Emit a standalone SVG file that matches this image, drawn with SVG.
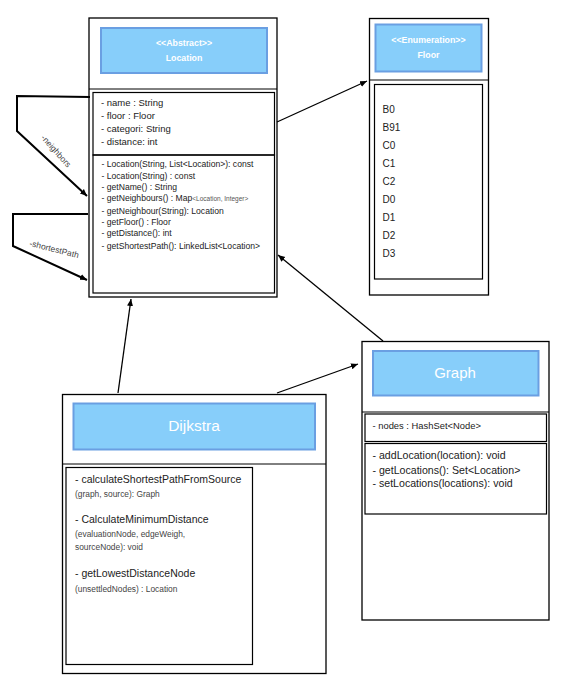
<svg xmlns="http://www.w3.org/2000/svg" width="576" height="694" viewBox="0 0 576 694">
<style>
.box{fill:#fff;stroke:#000;stroke-width:1.3}
.inner{fill:none;stroke:#000;stroke-width:1.2}
.sep{stroke:#000;stroke-width:1}
.hdr{fill:#87CEFA;stroke:#6A9FE2;stroke-width:2}
.ht{font-family:"Liberation Sans",Arial,sans-serif;fill:#fff;text-anchor:middle}
.t{font-family:"Liberation Sans",Arial,sans-serif;fill:#222}
.lbl{font-family:"Liberation Sans",Arial,sans-serif;fill:#444;font-size:8.5px}
.con{fill:none;stroke:#000;stroke-width:1.3}
.loop{fill:none;stroke:#000;stroke-width:2}
</style>
<defs>
<marker id="arr" markerUnits="userSpaceOnUse" markerWidth="8" markerHeight="8" refX="7" refY="4" orient="auto">
<path d="M0,1 L7,4 L0,7 Z" fill="#000"/>
</marker>
</defs>
<rect width="576" height="694" fill="#fff"/>

<g id="location">
<rect class="box" x="89" y="18" width="188" height="279"/>
<rect class="hdr" x="101" y="28" width="166" height="45"/>
<text class="ht" x="184" y="46" font-size="8.8" font-weight="bold">&lt;&lt;Abstract&gt;&gt;</text>
<text class="ht" x="184" y="61" font-size="8.8" font-weight="bold">Location</text>
<line class="sep" x1="89" y1="89" x2="277" y2="89"/>
<rect class="inner" x="93" y="92.5" width="181.5" height="62.5"/>
<rect class="inner" x="93" y="155" width="181.5" height="138"/>
<g class="t" font-size="9.5">
<text x="101" y="106">- name : String</text>
<text x="101" y="119.3">- floor : Floor</text>
<text x="101" y="132.3">- categori: String</text>
<text x="101" y="145.3">- distance: int</text>
</g>
<g class="t" font-size="8.6">
<text x="101.5" y="167.3">- Location(String, List&lt;Location&gt;): const</text>
<text x="101.5" y="178.7">- Location(String) : const</text>
<text x="101.5" y="189.7">- getName() : String</text>
<text x="101.5" y="200.7">- getNeighbours() : Map<tspan font-size="6.5" fill="#555">&lt;Location, Integer&gt;</tspan></text>
<text x="101.5" y="214.3">- getNeighbour(String): Location</text>
<text x="101.5" y="225.3">- getFloor() : Floor</text>
<text x="101.5" y="236.3">- getDistance(): int</text>
<text x="101.5" y="248.7">- getShortestPath(): LinkedList&lt;Location&gt;</text>
</g>
</g>

<g id="floor">
<rect class="box" x="369.5" y="18.5" width="119" height="276.5"/>
<rect class="hdr" x="375.5" y="24.5" width="106" height="47"/>
<text class="ht" x="428.5" y="43" font-size="8.8" font-weight="bold">&lt;&lt;Enumeration&gt;&gt;</text>
<text class="ht" x="428.5" y="57.5" font-size="8.8" font-weight="bold">Floor</text>
<line class="sep" x1="369.5" y1="80" x2="488.5" y2="80"/>
<rect class="inner" x="374.5" y="84.5" width="108" height="194.5"/>
<g class="t" font-size="10">
<text x="382.5" y="112.5">B0</text>
<text x="382.5" y="130.8">B91</text>
<text x="382.5" y="148.8">C0</text>
<text x="382.5" y="166.8">C1</text>
<text x="382.5" y="184.5">C2</text>
<text x="382.5" y="202.8">D0</text>
<text x="382.5" y="220.8">D1</text>
<text x="382.5" y="238.5">D2</text>
<text x="382.5" y="256.5">D3</text>
</g>
</g>

<g id="graph">
<rect class="box" x="362" y="341.5" width="187" height="278.5"/>
<rect class="hdr" x="373" y="351" width="165.5" height="44.5"/>
<text class="ht" x="455" y="378" font-size="15">Graph</text>
<line class="sep" x1="362" y1="412" x2="549" y2="412"/>
<rect class="inner" x="365" y="414" width="181.5" height="27.5"/>
<rect class="inner" x="365" y="443.5" width="181.5" height="70.5"/>
<text class="t" x="372.5" y="429.3" font-size="9.4" fill="#444">- nodes : HashSet&lt;Node&gt;</text>
<g class="t" font-size="10.6">
<text x="372.5" y="458.7">- addLocation(location): void</text>
<text x="372.5" y="474">- getLocations(): Set&lt;Location&gt;</text>
<text x="372.5" y="487">- setLocations(locations): void</text>
</g>
</g>

<g id="dijkstra">
<rect class="box" x="62.5" y="394.5" width="263.5" height="279"/>
<rect class="hdr" x="73.5" y="403.5" width="241.5" height="46"/>
<text class="ht" x="194" y="431" font-size="15.5">Dijkstra</text>
<line class="sep" x1="62.5" y1="464" x2="326" y2="464"/>
<rect class="inner" x="66" y="467.5" width="186.5" height="197"/>
<g class="t">
<text x="75" y="483" font-size="10.5">- calculateShortestPathFromSource</text>
<text x="75" y="497" font-size="8.4" fill="#444">(graph, source): Graph</text>
<text x="75" y="522.7" font-size="10.5">- CalculateMinimumDistance</text>
<text x="75" y="537.3" font-size="8.4" fill="#444">(evaluationNode, edgeWeigh,</text>
<text x="75" y="550.3" font-size="8.4" fill="#444">sourceNode): void</text>
<text x="75" y="577" font-size="10.5">- getLowestDistanceNode</text>
<text x="75" y="592" font-size="8.4" fill="#444">(unsettledNodes) : Location</text>
</g>
</g>

<g id="connectors">
<line class="con" x1="277" y1="122" x2="367" y2="81" marker-end="url(#arr)"/>
<line class="con" x1="383" y1="341" x2="278" y2="255" marker-end="url(#arr)"/>
<line class="con" x1="118" y1="393" x2="131" y2="299" marker-end="url(#arr)"/>
<line class="con" x1="277" y1="393" x2="358" y2="364" marker-end="url(#arr)"/>
<polyline class="loop" points="90,97 17,96 17,131 87,196" marker-end="url(#arr)"/>
<polyline class="loop" points="88,214 13,214 13,246 87,280" marker-end="url(#arr)"/>
<text class="lbl" x="54" y="153" text-anchor="middle" transform="rotate(48 54 153)">-neighbors</text>
<text class="lbl" x="53.5" y="252" text-anchor="middle" transform="rotate(14 53.5 252)">-shortestPath</text>
</g>
</svg>
